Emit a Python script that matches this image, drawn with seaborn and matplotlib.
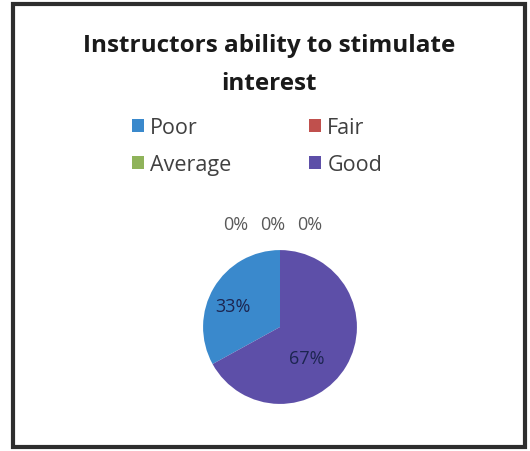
import matplotlib
matplotlib.use("Agg")
import matplotlib.pyplot as plt
import seaborn as sns
import numpy as np
from matplotlib.patches import Rectangle, Patch

sns.set_theme(style="white")
plt.rcParams['font.family'] = ['Open Sans', 'DejaVu Sans']

title = "Instructors ability to stimulate\ninterest"
categories = ["Poor", "Fair", "Average", "Good", "Excellent"]
values = [33, 0, 0, 67, 0]
legend_categories = ["Poor", "Fair", "Average", "Good"]
colors = {"Poor": "#3a89cc", "Fair": "#c0504d", "Average": "#8fb35a",
          "Good": "#5d4fa8", "Excellent": "#4bacc6"}
# drawing order around the pie (counter-clockwise from 12 o'clock)
draw_order = ["Fair", "Average", "Excellent", "Poor", "Good"]

fig = plt.figure(figsize=(5.30, 4.52), dpi=100)
fig.patch.set_facecolor("white")

# chart border
fig.add_artist(Rectangle((13 / 530, 4 / 452), 512 / 530, 443 / 452,
                         transform=fig.transFigure, fill=False,
                         edgecolor="#2e2e2e", linewidth=3))

fig.text(0.508, 1 - 65 / 452, title, ha="center", va="center",
         fontsize=17.5, fontweight="bold", color="#1a1a1a", linespacing=1.75)

ax = fig.add_axes([(280 - 100) / 530, (452 - 328 - 100) / 452, 200 / 530, 200 / 452])
vals = [values[categories.index(c)] for c in draw_order]
cols = [colors[c] for c in draw_order]
wedges, _ = ax.pie(vals, colors=cols, startangle=90, counterclock=True,
                   radius=1.0, wedgeprops=dict(linewidth=0))
ax.set_xlim(-1.3, 1.3)
ax.set_ylim(-1.3, 1.3)
ax.set_aspect("equal")
ax.axis("off")

# label placement tweaks: (angle shift in degrees, radius)
label_pos = {"Poor": (7, 0.67), "Good": (-18, 0.53)}

zero_i = 0
n_zero = sum(1 for v in vals if v == 0)
for w, v, c in zip(wedges, vals, draw_order):
    mid = (w.theta1 + w.theta2) / 2
    lab = f"{v:.0f}%"
    if v == 0:
        theta = np.deg2rad(mid)
        x = np.cos(theta) * 1.34 + (zero_i - (n_zero - 1) / 2) * 0.48 - 0.1
        y = np.sin(theta) * 1.34
        ax.text(x, y, lab, ha="center", va="center", fontsize=13, color="#595959")
        zero_i += 1
    else:
        shift, r = label_pos[c]
        theta = np.deg2rad(mid + shift)
        ax.text(np.cos(theta) * r, np.sin(theta) * r, lab, ha="center", va="center",
                fontsize=13, color="#1c2550")

handles = [Patch(facecolor=colors[c], edgecolor="none") for c in
           ["Poor", "Average", "Fair", "Good"]]
labels = ["Poor", "Average", "Fair", "Good"]
fig.legend(handles, labels, ncol=2, loc="center", bbox_to_anchor=(0.485, 1 - 147 / 452),
           frameon=False, fontsize=15.5, handlelength=0.55, handleheight=0.55,
           handletextpad=0.3, columnspacing=3.6, labelspacing=0.72,
           labelcolor="#404040")

fig.savefig("out.png", dpi=100, facecolor="white")
